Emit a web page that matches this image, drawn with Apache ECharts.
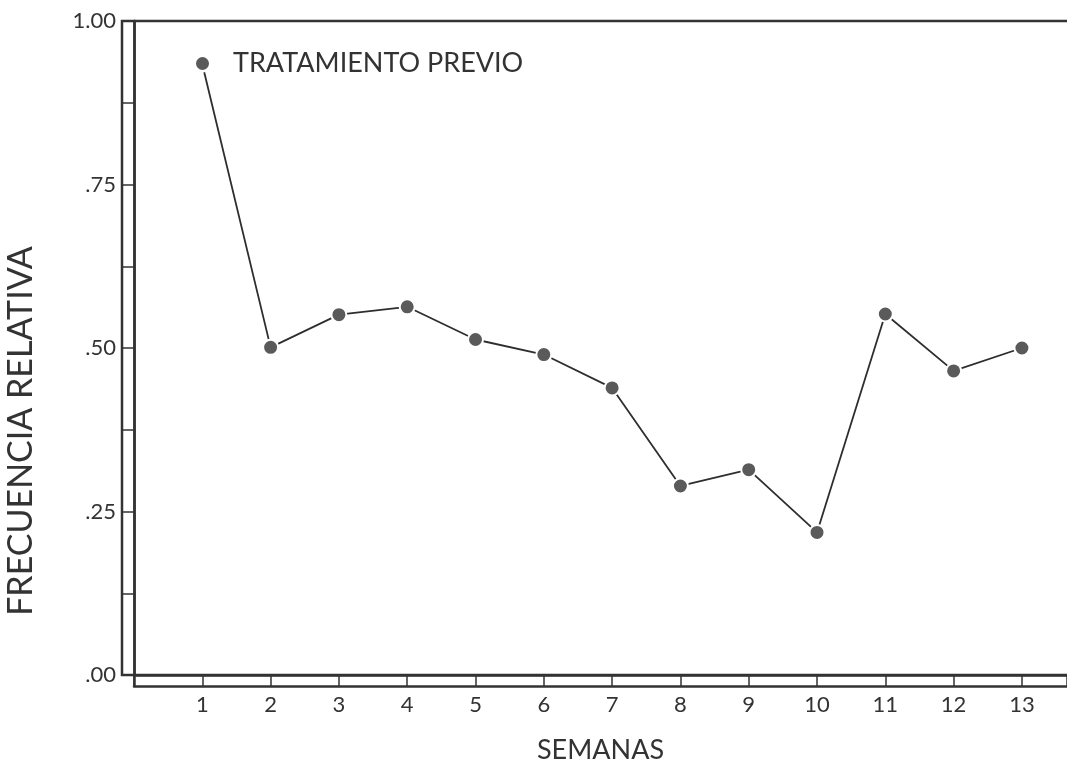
<!DOCTYPE html>
<html>
<head>
<meta charset="utf-8">
<script src="https://cdn.jsdelivr.net/npm/echarts@6/dist/echarts.min.js"></script>
<style>
  html, body { margin: 0; padding: 0; background: #fff; }
  #chart { width: 1067px; height: 765px; }
</style>
</head>
<body>
<div id="chart"></div>
<script>
// week numbers and relative frequency
const weeks = [1, 2, 3, 4, 5, 6, 7, 8, 9, 10, 11, 12, 13];
const freq = [0.934, 0.501, 0.551, 0.563, 0.513, 0.490, 0.439, 0.289, 0.314, 0.218, 0.552, 0.465, 0.500];
const seriesName = "TRATAMIENTO PREVIO";
const yTicks = [0, 0.25, 0.5, 0.75, 1];

const ink = "#333";
const font = "Lato";

const chart = echarts.init(document.getElementById("chart"));

const yLabel = (v) => {
    const hit = yTicks.some((t) => Math.abs(t - v) < 1e-6);
    if (!hit) return "";
    return v === 1 ? "1.00" : v.toFixed(2).replace(/^0/, "");
};

const bare = { show: false };

chart.setOption({
    backgroundColor: "#fff",
    animation: false,
    textStyle: { fontFamily: font, color: ink },
    grid: [
        // plotting area
        { left: 134, top: 21, right: 0, bottom: 90, outerBoundsMode: "none" },
        // outer frame (double line, outer part)
        { left: 122, top: 21, right: -20, bottom: 90, outerBoundsMode: "none", show: true, borderColor: ink, borderWidth: 2.5, backgroundColor: "transparent" },
        // inner L of the double line
        { left: 134, top: 21, right: -20, bottom: 79, outerBoundsMode: "none" },
    ],
    legend: {
        data: [seriesName],
        icon: "circle",
        left: 194,
        top: 50,
        padding: 0,
        itemWidth: 15,
        itemHeight: 15,
        textStyle: { fontFamily: font, fontSize: 27, color: ink, padding: [0, 0, 0, 18] },
    },
    xAxis: [
        {
            gridIndex: 0,
            type: "value",
            min: 0,
            max: 13.66,
            interval: 1,
            name: "SEMANAS",
            nameLocation: "middle",
            nameGap: 62,
            nameTextStyle: { fontFamily: font, fontSize: 27, color: ink },
            axisLine: { show: true, lineStyle: { color: ink, width: 2.5 } },
            axisTick: { show: true, inside: false, length: 11, lineStyle: { color: ink, width: 1.5 } },
            axisLabel: {
                margin: 19,
                fontSize: 22,
                color: ink,
                formatter: (v) => (weeks.includes(v) ? String(v) : ""),
            },
            splitLine: bare,
        },
        { gridIndex: 1, type: "value", min: 0, max: 1, axisLine: bare, axisTick: bare, axisLabel: bare, splitLine: bare },
        {
            gridIndex: 2, type: "value", min: 0, max: 1,
            axisLine: { show: true, lineStyle: { color: ink, width: 2.5 } },
            axisTick: bare, axisLabel: bare, splitLine: bare,
        },
    ],
    yAxis: [
        {
            gridIndex: 0,
            type: "value",
            min: 0,
            max: 1,
            interval: 0.125,
            name: "FRECUENCIA RELATIVA",
            nameLocation: "middle",
            nameGap: 96,
            nameTextStyle: { fontFamily: font, fontSize: 34, color: ink, padding: [0, 166, 0, 0] },
            axisLine: { show: true, lineStyle: { color: ink, width: 2.5 } },
            axisTick: { show: true, inside: false, length: 12, lineStyle: { color: ink, width: 1.5 } },
            axisLabel: { margin: 18, fontSize: 22, color: ink, formatter: yLabel },
            splitLine: bare,
        },
        { gridIndex: 1, type: "value", min: 0, max: 1, axisLine: bare, axisTick: bare, axisLabel: bare, splitLine: bare },
        {
            gridIndex: 2, type: "value", min: 0, max: 1,
            axisLine: { show: true, lineStyle: { color: ink, width: 2.5 } },
            axisTick: bare, axisLabel: bare, splitLine: bare,
        },
    ],
    series: [
        {
            name: seriesName,
            type: "line",
            xAxisIndex: 0,
            yAxisIndex: 0,
            data: weeks.map((w, i) => [w, freq[i]]),
            symbol: "circle",
            symbolSize: 15,
            itemStyle: { color: "#5a5a5a", borderColor: "#fff", borderWidth: 2 },
            lineStyle: { color: "#2e2e2e", width: 1.8 },
        },
    ],
});
</script>
</body>
</html>
